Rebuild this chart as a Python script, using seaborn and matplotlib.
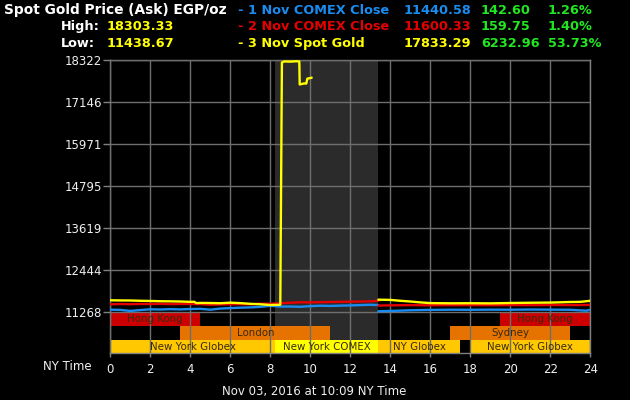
import matplotlib
matplotlib.use("Agg")
import matplotlib.pyplot as plt
import seaborn as sns
import pandas as pd
from matplotlib.patches import Rectangle

# ---------------- data ----------------
blue_h1 = [0, 0.5, 1, 1.5, 2, 2.5, 3, 3.5, 4, 4.5, 5, 5.5, 6, 6.5, 7, 7.5, 8, 8.5, 9, 9.5, 10, 10.5, 11, 11.5, 12, 12.5, 13, 13.4]
blue_v1 = [11341, 11335, 11306, 11330, 11352, 11345, 11355, 11348, 11360, 11365, 11340, 11372, 11385, 11397, 11405, 11420, 11450, 11428, 11430, 11422, 11440, 11452, 11446, 11455, 11460, 11470, 11478, 11470]
blue_h2 = [13.4, 14, 15, 16, 17, 18, 19, 20, 21, 22, 23, 23.8, 24]
blue_v2 = [11296, 11305, 11324, 11335, 11340, 11338, 11342, 11340, 11345, 11342, 11338, 11313, 11335]

red_h1 = [0, 0.5, 1, 1.5, 2, 2.5, 3, 3.5, 4, 4.5, 5, 5.5, 6, 6.5, 7, 7.5, 8, 8.5, 9, 9.5, 10, 10.5, 11, 11.5, 12, 12.5, 13, 13.4]
red_v1 = [11492, 11500, 11495, 11502, 11500, 11505, 11497, 11500, 11502, 11495, 11481, 11488, 11492, 11495, 11490, 11510, 11505, 11522, 11535, 11548, 11545, 11552, 11556, 11560, 11565, 11568, 11575, 11590]
red_h2 = [13.4, 14, 15, 16, 17, 18, 19, 20, 21, 22, 23, 24]
red_v2 = [11455, 11462, 11470, 11465, 11468, 11470, 11466, 11470, 11468, 11472, 11470, 11475]

yel_h1 = [0, 0.5, 1, 1.5, 2, 2.5, 3, 3.5, 4, 4.2, 4.3, 4.5, 5, 5.5, 6, 6.5, 7, 7.5, 8, 8.5, 8.58, 8.7, 9, 9.3, 9.45, 9.47, 9.7, 9.8, 9.85, 10.07]
yel_v1 = [11604, 11600, 11598, 11590, 11585, 11578, 11575, 11570, 11560, 11562, 11525, 11530, 11528, 11522, 11537, 11525, 11505, 11492, 11472, 11478, 18260, 18290, 18285, 18295, 18290, 17646, 17675, 17670, 17807, 17835]
yel_h2 = [13.4, 14, 14.5, 15, 15.5, 16, 17, 18, 19, 20, 21, 22, 23, 23.5, 24]
yel_v2 = [11621, 11615, 11590, 11570, 11545, 11525, 11520, 11522, 11518, 11528, 11535, 11540, 11556, 11560, 11590]

y_ticks = [11268, 12444, 13619, 14795, 15971, 17146, 18322]
x_ticks = [0, 2, 4, 6, 8, 10, 12, 14, 16, 18, 20, 22, 24]

comex_start, comex_end = 8.25, 13.4

session_names = ["Hong Kong", "Hong Kong", "London", "Sydney", "New York Globex", "New York COMEX", "NY Globex", "New York Globex"]
session_start = [0, 19.5, 3.5, 17.0, 0, 8.25, 13.4, 18.0]
session_end = [4.5, 24, 11.0, 23.0, 8.25, 13.4, 17.5, 24]
session_row = [2, 2, 1, 1, 0, 0, 0, 0]
session_color = ["#cc0000", "#cc0000", "#e67300", "#e67300", "#ffc800", "#ffff00", "#ffc800", "#ffc800"]

header_rows = [
    ("- 1 Nov COMEX Close", "11440.58", "142.60", "1.26%", "#1a8cf0"),
    ("- 2 Nov COMEX Close", "11600.33", "159.75", "1.40%", "#e60000"),
    ("- 3 Nov Spot Gold", "17833.29", "6232.96", "53.73%", "#ffff00"),
]
high_val = "18303.33"
low_val = "11438.67"

# ---------------- style ----------------
sns.set_theme(style="dark")
plt.rcParams["font.family"] = ["DejaVu Sans"]

W, H = 630, 400
fig = plt.figure(figsize=(W / 100, H / 100), dpi=100, facecolor="black")
left, right, top, bottom = 110.3, 590.3, 60.3, 353.3
ax = fig.add_axes([left / W, (H - bottom) / H, (right - left) / W, (bottom - top) / H])
ax.set_facecolor("black")

def frame(h, v, seg):
    return pd.DataFrame({"hour": h, "price": v, "seg": seg})

df_blue = pd.concat([frame(blue_h1, blue_v1, 1), frame(blue_h2, blue_v2, 2)])
df_red = pd.concat([frame(red_h1, red_v1, 1), frame(red_h2, red_v2, 2)])
df_yel = pd.concat([frame(yel_h1, yel_v1, 1), frame(yel_h2, yel_v2, 2)])

ax.axvspan(comex_start, comex_end, color="#2b2b2b", zorder=0.5, lw=0)

xt = ax.get_xaxis_transform()
row_h = 0.0445
for name, s, e, r, c in zip(session_names, session_start, session_end, session_row, session_color):
    y0 = r * (row_h + 0.0025) + 0.0
    ax.add_patch(Rectangle((s, y0), e - s, row_h, transform=xt, facecolor=c, edgecolor="none", zorder=1))
    ax.text((s + e) / 2, y0 + row_h / 2, name, transform=xt, ha="center", va="center",
            fontsize=7.4, color="#3a2a10", zorder=4)

for df, col in [(df_blue, "#1a8cf0"), (df_red, "#e60000"), (df_yel, "#ffff00")]:
    sns.lineplot(data=df, x="hour", y="price", units="seg", estimator=None, color=col,
                 lw=1.7, ax=ax, legend=False, zorder=3)

ax.set_xlim(0, 24)
ax.set_ylim(10120, 18322)
ax.set_xticks(x_ticks)
ax.set_xticklabels([str(x) for x in x_ticks])
ax.set_yticks(y_ticks)
ax.set_yticklabels([str(y) for y in y_ticks])
ax.set_xlabel("")
ax.set_ylabel("")
ax.set_axisbelow(False)
ax.grid(True, color="#6e6e6e", lw=1, zorder=2.5)
for sp in ax.spines.values():
    sp.set_color("#808080")
    sp.set_linewidth(1)
    sp.set_visible(True)
ax.tick_params(axis="y", colors="#808080", labelcolor="#f0f0f0", length=5, width=1, labelsize=8.5, pad=1, left=True)
ax.tick_params(axis="x", colors="#808080", labelcolor="#f0f0f0", length=3, width=1, labelsize=8.5, pad=4, bottom=True)

# ---------------- header ----------------
def px(x, y):
    return x / W, 1 - y / H

hfs = 9.3
fig.text(*px(4, 10), "Spot Gold Price (Ask) EGP/oz", color="white", fontsize=9.9, fontweight="bold", va="center", ha="left")
fig.text(*px(61, 26.5), "High:", color="white", fontsize=hfs, fontweight="bold", va="center", ha="left")
fig.text(*px(107, 26.5), high_val, color="#ffff00", fontsize=hfs, fontweight="bold", va="center", ha="left")
fig.text(*px(61, 43.5), "Low:", color="white", fontsize=hfs, fontweight="bold", va="center", ha="left")
fig.text(*px(107, 43.5), low_val, color="#ffff00", fontsize=hfs, fontweight="bold", va="center", ha="left")
for i, (lab, val, chg, pct, col) in enumerate(header_rows):
    yy = [10, 26.5, 43.5][i]
    fig.text(*px(238, yy), lab, color=col, fontsize=hfs, fontweight="bold", va="center", ha="left")
    fig.text(*px(404, yy), val, color=col, fontsize=hfs, fontweight="bold", va="center", ha="left")
    fig.text(*px(481, yy), chg, color="#22e622", fontsize=hfs, fontweight="bold", va="center", ha="left")
    fig.text(*px(548, yy), pct, color="#22e622", fontsize=hfs, fontweight="bold", va="center", ha="left")

fig.text(*px(43, 367), "NY Time", color="#f0f0f0", fontsize=8.5, va="center", ha="left")
fig.text(*px(314.5, 392), "Nov 03, 2016 at 10:09 NY Time", color="#f0f0f0", fontsize=8.5, va="center", ha="center")

fig.savefig("out.png", dpi=100, facecolor="black")
